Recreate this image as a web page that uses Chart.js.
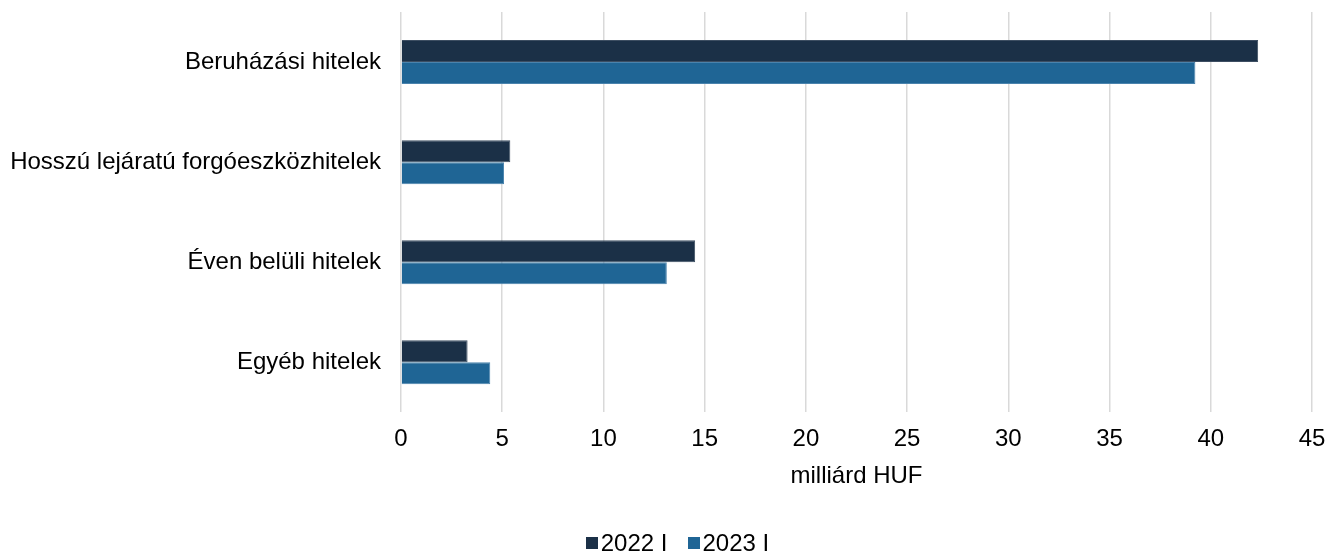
<!DOCTYPE html>
<html>
<head>
<meta charset="utf-8">
<script src="https://cdn.jsdelivr.net/npm/chart.js@4"></script>
<style>
  html, body { margin: 0; padding: 0; background: #fff; }
  #wrap { position: relative; width: 1325px; height: 551px; }
  #legend {
    position: absolute; left: 0; top: 529px; width: 1325px;
    display: flex; justify-content: center; padding-left: 30px; box-sizing: border-box;
    font-family: "Liberation Sans", Arial, sans-serif; font-size: 24px; line-height: 28px; color: #000;
  }
  .legend-item { display: flex; align-items: center; margin: 0 10px; }
  .legend-box { width: 12px; height: 12px; margin-right: 3px; }
</style>
</head>
<body>
<div id="wrap">
  <canvas id="loanChart" width="1325" height="551"></canvas>
  <div id="legend"></div>
</div>
<script>
const categories = ['Beruházási hitelek', 'Hosszú lejáratú forgóeszközhitelek', 'Éven belüli hitelek', 'Egyéb hitelek'];
const seriesNames = ['2022 I', '2023 I'];
const values2022 = [42.34, 5.40, 14.53, 3.29];
const values2023 = [39.24, 5.09, 13.13, 4.41];
const axisTitle = 'milliárd HUF';
const xTicks = [0, 5, 10, 15, 20, 25, 30, 35, 40, 45];

const colors = ['#1b3047', '#1f6595'];
const edges = ['#3d4e62', '#4a83ad'];

const fontFamily = '"Liberation Sans", Arial, sans-serif';
Chart.defaults.font.family = fontFamily;
Chart.defaults.color = '#000';

const chart = new Chart(document.getElementById('loanChart'), {
  type: 'bar',
  data: {
    labels: categories,
    datasets: [values2022, values2023].map((vals, i) => ({
      label: seriesNames[i],
      data: vals,
      backgroundColor: colors[i],
      borderColor: edges[i],
      borderWidth: 1,
      categoryPercentage: 0.44,
      barPercentage: 1
    }))
  },
  options: {
    indexAxis: 'y',
    responsive: false,
    animation: false,
    layout: { padding: { top: 12, right: 13, left: 0, bottom: 60 } },
    scales: {
      x: {
        min: xTicks[0],
        max: xTicks[xTicks.length - 1],
        afterBuildTicks: (scale) => { scale.ticks = xTicks.map(v => ({ value: v })); },
        ticks: { padding: 13, font: { size: 24 } },
        grid: { color: '#d9d9d9', lineWidth: 1.5, drawTicks: false },
        border: { display: false },
        title: { display: true, text: axisTitle, font: { size: 24 }, padding: { top: -5, bottom: 0 } },
        afterFit: (scale) => {
          scale.paddingRight = 0;
        }
      },
      y: {
        grid: { display: false, drawTicks: false },
        border: { display: false },
        ticks: { padding: 20, font: { size: 24 } },
        afterFit: (scale) => {
          scale.width = 401;
          scale.paddingTop = 0;
          scale.paddingBottom = 0;
        }
      }
    },
    plugins: {
      legend: { display: false },
      tooltip: { enabled: false }
    }
  }
});

// simple html legend
document.getElementById('legend').innerHTML = chart.data.datasets.map(ds => `
  <div class="legend-item">
    <span class="legend-box" style="background:${ds.backgroundColor}"></span>
    <span>${ds.label}</span>
  </div>`).join('');
</script>
</body>
</html>
